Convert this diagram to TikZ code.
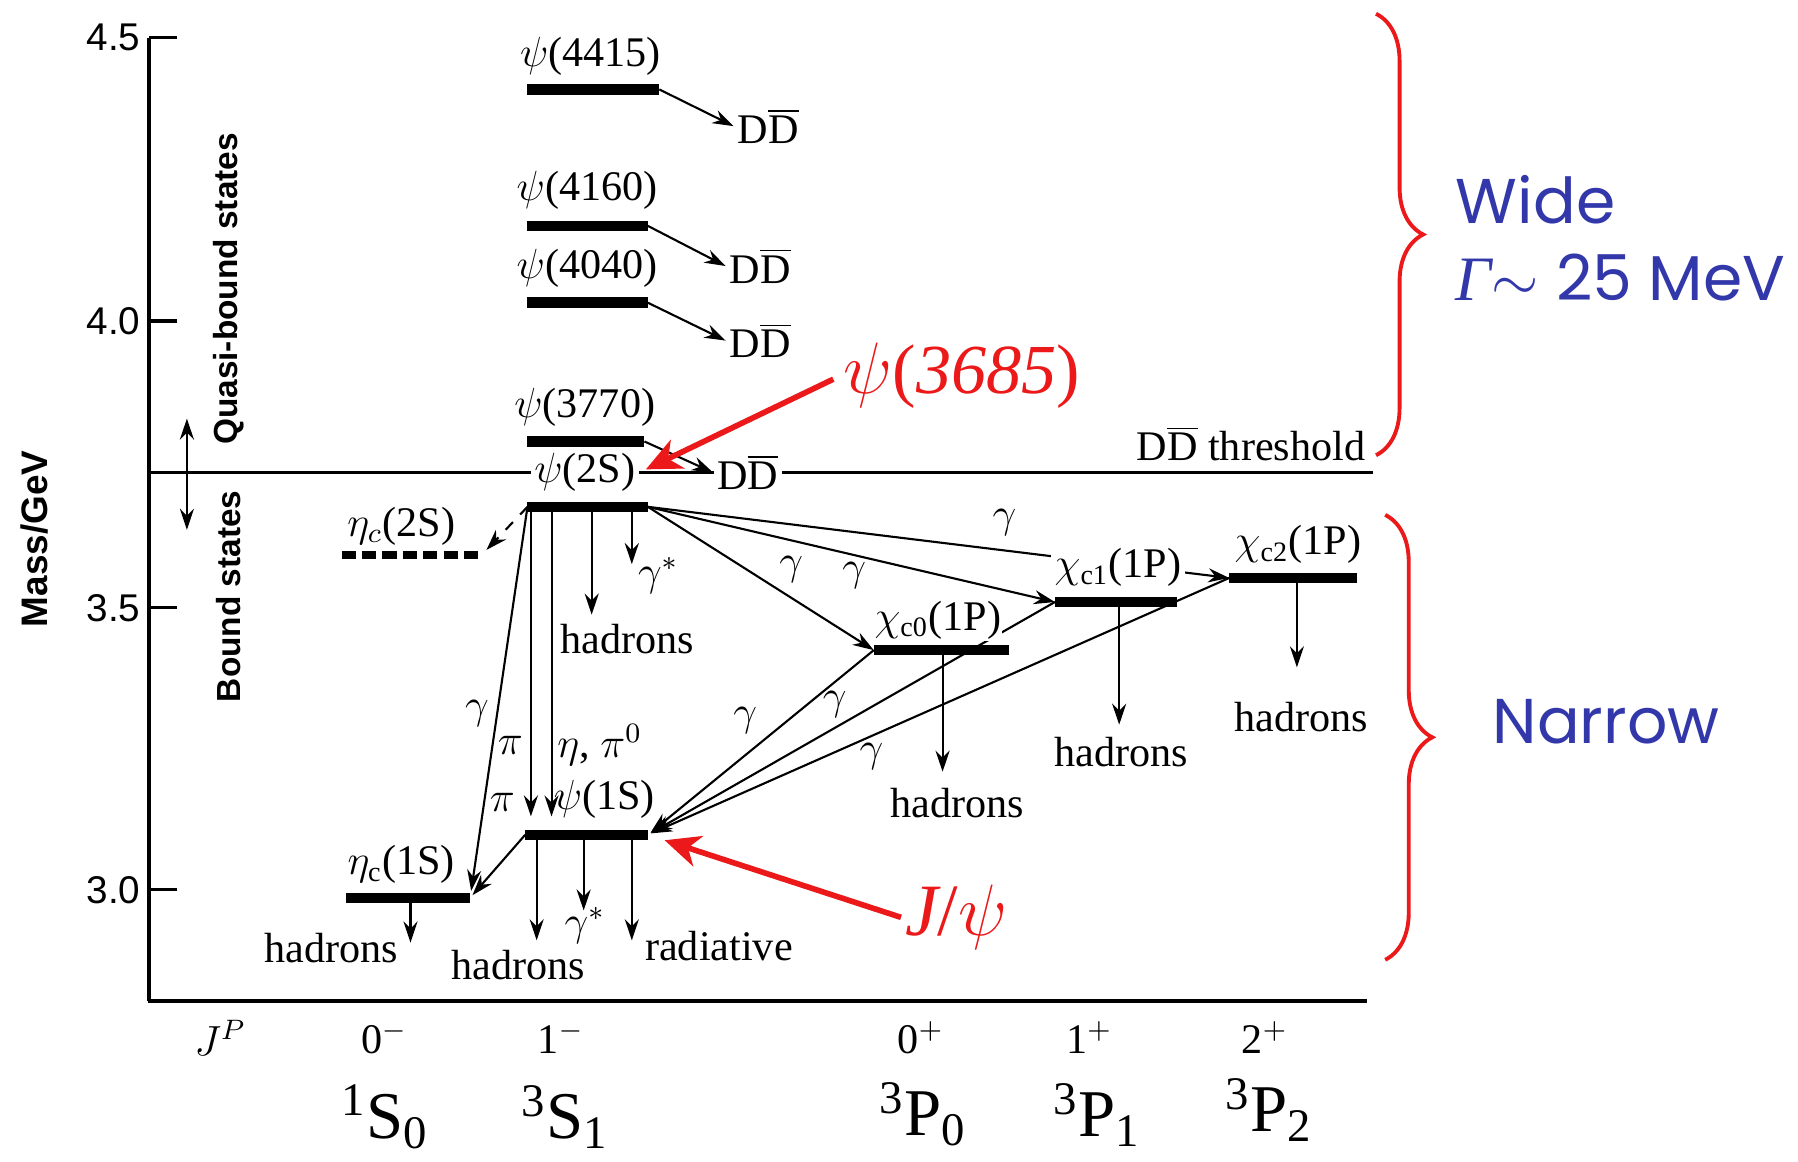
\documentclass[tikz,border=0pt]{standalone}
\usepackage{fontspec}
\setmainfont{Liberation Serif}
\setsansfont{Liberation Sans}
\newfontfamily\notefont{Poppins}
\usetikzlibrary{arrows.meta,decorations.pathreplacing}
\definecolor{markRed}{RGB}{235,25,25}
\definecolor{noteBlue}{RGB}{50,55,170}
\newcommand\DDbar{D$\overline{\hbox{D}}$}

\begin{document}
\begin{tikzpicture}[x=0.11467mm, y=-0.11467mm,
  font=\fontsize{12}{14}\selectfont, inner sep=1pt,
  level/.style={line width=3pt},
  tr/.style={line width=0.6pt, -{Stealth[length=6pt,width=4pt,inset=2pt]}},
  mask/.style={fill=white},
  axis/.style={line width=0.9pt},
  side/.style={font=\sffamily\bfseries\fontsize{9.5}{11}\selectfont, rotate=90},
  spec/.style={font=\fontsize{19}{22}\selectfont, inner sep=0pt},
  pointer/.style={draw=markRed, line width=1.6pt, -{Stealth[length=10pt,width=9pt,inset=3pt]}},
  bracket/.style={draw=markRed, line width=1.1pt, decorate, decoration={brace, amplitude=13.4pt}},
  note/.style={text=noteBlue, font=\notefont\fontsize{18}{21.9}\selectfont, anchor=base west, align=left}]
\path[use as bounding box, fill=white] (0,0) rectangle (1568,1013);

\draw[axis] (130,33) -- (130,873);
\draw[line width=1.3pt] (129.5,873) -- (1192,873);
\foreach \m/\y [count=\i] in {4.5/33,4.0/280,3.5/530,3.0/776} {
  \draw[axis] (130,\y) -- (154,\y);
  \node[anchor=east, font=\sffamily\fontsize{11}{13}\selectfont] (tick\i) at (126,\y) {\m};
}
\node[side, font=\sffamily\bfseries\fontsize{10.5}{12}\selectfont] (massaxis) at (30,470) {Mass/GeV};
\node[side] (quasi) at (199,252) {Quasi-bound states};
\node[side] (bound) at (199,520) {Bound states};
\coordinate (qa) at (163,365);
\coordinate (qb) at (163,462);
\draw[line width=0.6pt, {Stealth[length=6pt,width=4pt,inset=2pt]}-{Stealth[length=6pt,width=4pt,inset=2pt]}] (qa) -- (qb);

\coordinate (thrL) at (130,412);
\coordinate (thrR) at (1197,412);
\draw[line width=0.8pt] (thrL) -- (thrR);
\node (thr) at (1091,387) {\DDbar{} threshold};

\coordinate (psi4415-L) at (460,78);  \coordinate (psi4415-R) at (575,78);
\coordinate (psi4160-L) at (460,197); \coordinate (psi4160-R) at (565,197);
\coordinate (psi4040-L) at (460,264); \coordinate (psi4040-R) at (565,264);
\coordinate (psi3770-L) at (460,385); \coordinate (psi3770-R) at (562,385);
\coordinate (psi2S-L) at (460,442);   \coordinate (psi2S-R) at (565,442);
\coordinate (etac2S-L) at (298,484);  \coordinate (etac2S-R) at (420,484);
\coordinate (psi1S-L) at (458,728);   \coordinate (psi1S-R) at (565,728);
\coordinate (etac1S-L) at (302,783);  \coordinate (etac1S-R) at (410,783);
\coordinate (chi0-L) at (762,567);    \coordinate (chi0-R) at (880,567);
\coordinate (chi1-L) at (920,525);    \coordinate (chi1-R) at (1026,525);
\coordinate (chi2-L) at (1072,504);   \coordinate (chi2-R) at (1183,504);

\node (dd4415) at (670,110) {\DDbar};
\node (dd4160) at (663,232) {\DDbar};
\node (dd4040) at (663,297) {\DDbar};
\node[mask] (dd3770) at (652,412) {\DDbar};
\draw[tr] (psi4415-R) -- (dd4415.west);
\draw[tr] (psi4160-R) -- (dd4160.west);
\draw[tr] (psi4040-R) -- (dd4040.west);
\draw[tr] (psi3770-R) -- (dd3770.west);

\coordinate (piA) at (463,444);   \coordinate (piB) at (463,712);
\coordinate (etaA) at (481,444);  \coordinate (etaB) at (481,712);
\coordinate (h2SA) at (516,444);  \coordinate (h2SB) at (516,536);
\coordinate (g2SA) at (551,444);  \coordinate (g2SB) at (551,492);
\coordinate (h1SA) at (468,730);  \coordinate (h1SB) at (468,820);
\coordinate (g1SA) at (509,730);  \coordinate (g1SB) at (509,794);
\coordinate (r1SA) at (551,730);  \coordinate (r1SB) at (551,820);
\coordinate (hetA) at (358,785);  \coordinate (hetB) at (358,822);
\coordinate (h0A) at (822,569);   \coordinate (h0B) at (822,673);
\coordinate (h1A) at (976,527);   \coordinate (h1B) at (976,632);
\coordinate (h2A) at (1131,506);  \coordinate (h2B) at (1131,582);
\foreach \d in {pi,eta,h2S,g2S,h1S,g1S,r1S,het,h0,h1,h2}
  \draw[tr] (\d A) -- (\d B);

\draw[tr, dashed, shorten >=2pt] (psi2S-L) -- (etac2S-R);
\draw[tr, shorten >=2pt] (psi2S-L) -- (etac1S-R);
\draw[tr, shorten >=1pt] (psi1S-L) -- (etac1S-R);
\draw[tr] (psi2S-R) -- (chi0-L);
\draw[tr] (psi2S-R) -- (chi1-L);
\draw[tr] (psi2S-R) -- (chi2-L);
\draw[tr, shorten >=1pt] (chi0-L) -- (psi1S-R);
\draw[tr, shorten >=1pt] (chi1-L) -- (psi1S-R);
\draw[tr, shorten >=1pt] (chi2-L) -- (psi1S-R);

\node (t4415) at (515,49) {$\psi$(4415)};
\node (t4160) at (512,166) {$\psi$(4160)};
\node (t4040) at (512,234) {$\psi$(4040)};
\node (t3770) at (510,355) {$\psi$(3770)};
\node[mask] (t2S) at (510,412) {$\psi$(2S)};
\node (tetac2S) at (350,459) {$\eta_c$(2S)};
\node (t1S) at (527,697) {$\psi$(1S)};
\node (tetac1S) at (350,754) {$\eta_{\rm c}$(1S)};
\node[mask, inner sep=0.3pt] (tchi0) at (818,541) {$\chi_{\rm c0}$(1P)};
\node[mask] (tchi1) at (975,495) {$\chi_{\rm c1}$(1P)};
\node (tchi2) at (1132,475) {$\chi_{\rm c2}$(1P)};

\foreach \s in {psi4415,psi4160,psi4040,psi3770,psi2S,psi1S,etac1S,chi0,chi1,chi2}
  \draw[level] (\s-L) -- (\s-R);
\draw[level, line width=2pt, dash pattern=on 4pt off 1.8pt] (etac2S-L) -- (etac2S-R);

\node (g1) at (416,622) {$\gamma$};
\node (g2) at (690,497) {$\gamma$};
\node (g3) at (745,502) {$\gamma$};
\node (g4) at (876,456) {$\gamma$};
\node (g5) at (650,628) {$\gamma$};
\node (g6) at (728,614) {$\gamma$};
\node (g7) at (760,660) {$\gamma$};
\node (pi1) at (445,650) {$\pi$};
\node (etapi) at (523,650) {$\eta$, $\pi^0$};
\node (pi2) at (438,700) {$\pi$};

\node (had2S) at (547,557) {hadrons};
\node (gs2S) at (574,502) {$\gamma^*$};
\node (had1S) at (452,842) {hadrons};
\node (gs1S) at (510,807) {$\gamma^*$};
\node (rad1S) at (627,825) {radiative};
\node (hadetac) at (289,827) {hadrons};
\node (hadchi0) at (835,700) {hadrons};
\node (hadchi1) at (978,656) {hadrons};
\node (hadchi2) at (1135,625) {hadrons};

\node[text=markRed, font=\fontsize{20}{24}\selectfont] (m3685) at (839,328) {$\psi$({\itshape 3685})};
\node[text=markRed, font=\fontsize{21}{25}\selectfont] (mjpsi) at (834,800) {{\itshape J}/$\psi$};
\draw[pointer, shorten <=2pt, shorten >=2pt] (m3685.west) -- (t2S.east);
\draw[pointer, shorten >=5pt] (mjpsi.west) -- (psi1S-R);

\coordinate (wideTop) at (1200,12);
\coordinate (wideBot) at (1200,397);
\draw[bracket] (wideTop) -- (wideBot);
\coordinate (narTop) at (1208,449);
\coordinate (narBot) at (1208,837);
\draw[bracket] (narTop) -- (narBot);
\node[note] (wide) at (1266,262) {Wide\\{\rmfamily\itshape Γ}$\sim$ 25 MeV};
\node[note] (narrow) at (1298,648) {Narrow};

\node (jp) at (192,905) {$J^P$};
\node (jp0m) at (335,905) {0$^-$};
\node (jp1m) at (489,905) {1$^-$};
\node (jp0p) at (803,905) {0$^+$};
\node (jp1p) at (950,905) {1$^+$};
\node (jp2p) at (1103,905) {2$^+$};
\node[spec] (s1S0) at (336,974) {\textsuperscript{1}S\textsubscript{0}};
\node[spec] (s3S1) at (493,974) {\textsuperscript{3}S\textsubscript{1}};
\node[spec] (s3P0) at (805,972) {\textsuperscript{3}P\textsubscript{0}};
\node[spec] (s3P1) at (957,972) {\textsuperscript{3}P\textsubscript{1}};
\node[spec] (s3P2) at (1107,968) {\textsuperscript{3}P\textsubscript{2}};
\end{tikzpicture}
\end{document}
